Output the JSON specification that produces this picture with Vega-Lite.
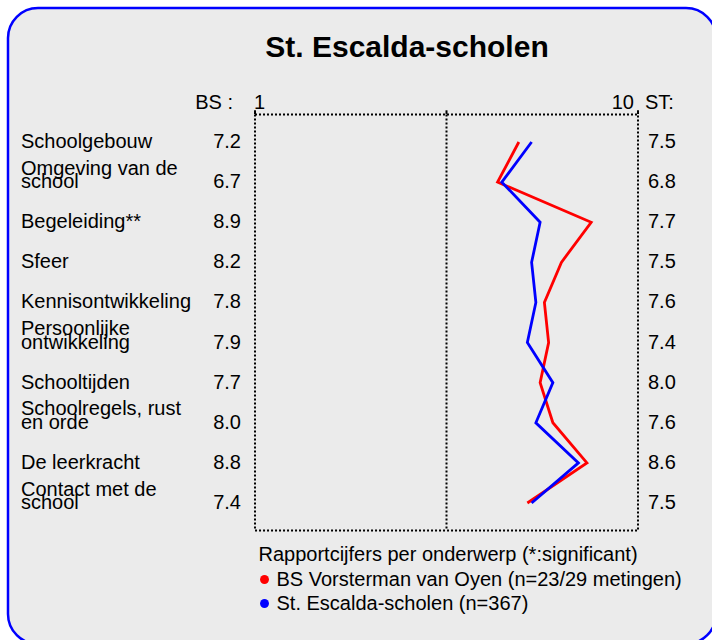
{
  "$schema": "https://vega.github.io/schema/vega-lite/v6.json",
  "width": 708,
  "height": 636,
  "autosize": {"type": "none"},
  "padding": {"left": 8, "top": 8, "right": -4, "bottom": -4},
  "background": "white",
  "config": {
    "view": {"fill": "#ebebeb", "stroke": "#0000ff", "strokeWidth": 2.5, "cornerRadius": 30},
    "font": "Liberation Sans",
    "text": {"font": "Liberation Sans", "fontSize": 20, "color": "black"}
  },
  "title": {
    "text": "St. Escalda-scholen",
    "font": "Liberation Sans",
    "fontSize": 30,
    "fontWeight": "bold",
    "color": "black",
    "anchor": "middle",
    "frame": "group",
    "dx": 45,
    "offset": -79,
    "baseline": "alphabetic"
  },
  "datasets": {
    "rows": [
      {"idx": 0, "label": "Schoolgebouw", "BS": 7.2, "ST": 7.5},
      {"idx": 1, "label": "Omgeving van de\nschool", "BS": 6.7, "ST": 6.8},
      {"idx": 2, "label": "Begeleiding**", "BS": 8.9, "ST": 7.7},
      {"idx": 3, "label": "Sfeer", "BS": 8.2, "ST": 7.5},
      {"idx": 4, "label": "Kennisontwikkeling", "BS": 7.8, "ST": 7.6},
      {"idx": 5, "label": "Persoonlijke\nontwikkeling", "BS": 7.9, "ST": 7.4},
      {"idx": 6, "label": "Schooltijden", "BS": 7.7, "ST": 8.0},
      {"idx": 7, "label": "Schoolregels, rust\nen orde", "BS": 8.0, "ST": 7.6},
      {"idx": 8, "label": "De leerkracht", "BS": 8.8, "ST": 8.6},
      {"idx": 9, "label": "Contact met de\nschool", "BS": 7.4, "ST": 7.5}
    ]
  },
  "data": {"name": "rows"},
  "layer": [
    {
      "data": {"values": [{}]},
      "mark": {"type": "rect", "fill": "transparent", "stroke": "black", "strokeWidth": 2, "strokeDash": [2, 2]},
      "encoding": {
        "x": {"datum": 1, "type": "quantitative", "scale": {"type": "linear", "domain": [1, 10], "range": [247, 630], "nice": false, "zero": false}, "axis": null},
        "x2": {"datum": 10},
        "y": {"datum": -0.686, "type": "quantitative", "scale": {"type": "linear", "domain": [0, 9], "range": [134, 495], "nice": false, "zero": false}, "axis": null},
        "y2": {"datum": 9.686}
      }
    },
    {
      "data": {"values": [{}]},
      "mark": {"type": "rule", "stroke": "black", "strokeWidth": 2, "strokeDash": [2, 2]},
      "encoding": {
        "x": {"datum": 5.5, "type": "quantitative"},
        "y": {"datum": -0.686, "type": "quantitative"},
        "y2": {"datum": 9.686}
      }
    },
    {
      "data": {"values": [{"tick": 1}, {"tick": 5.5}, {"tick": 10}]},
      "mark": {"type": "rule", "stroke": "black", "strokeWidth": 2},
      "encoding": {
        "x": {"field": "tick", "type": "quantitative"},
        "y": {"datum": -0.7, "type": "quantitative"},
        "y2": {"datum": -0.79}
      }
    },
    {
      "transform": [{"fold": ["BS", "ST"], "as": ["series", "value"]}],
      "mark": {"type": "line", "strokeWidth": 2.8},
      "encoding": {
        "x": {"field": "value", "type": "quantitative"},
        "y": {"field": "idx", "type": "quantitative"},
        "order": {"field": "idx", "type": "quantitative"},
        "color": {
          "field": "series",
          "type": "nominal",
          "scale": {"domain": ["BS", "ST"], "range": ["#ff0000", "#0000ff"]},
          "legend": {
            "orient": "none",
            "legendX": 250.5,
            "legendY": 537,
            "padding": 0,
            "title": "Rapportcijfers per onderwerp (*:significant)",
            "titleFont": "Liberation Sans",
            "titleFontSize": 20,
            "titleFontWeight": "normal",
            "titleColor": "black",
            "titlePadding": 4.5,
            "titleLimit": 0,
            "labelFont": "Liberation Sans",
            "labelFontSize": 20,
            "labelColor": "black",
            "labelLimit": 0,
            "labelOffset": 2,
            "symbolOffset": -4,
            "rowPadding": 4,
            "symbolType": "circle",
            "symbolSize": 80,
            "symbolStrokeWidth": 0,
            "labelExpr": "datum.value == 'BS' ? 'BS Vorsterman van Oyen (n=23/29 metingen)' : 'St. Escalda-scholen (n=367)'",
            "encode": {"symbols": {"update": {"fill": {"scale": "color", "field": "value"}, "opacity": {"value": 1}}}}
          }
        }
      }
    },
    {
      "transform": [{"calculate": "peek(split(datum.label, '\\n'))", "as": "mainLine"}],
      "mark": {"type": "text", "align": "left", "baseline": "middle"},
      "encoding": {
        "x": {"datum": -4.5, "type": "quantitative"},
        "y": {"field": "idx", "type": "quantitative"},
        "text": {"field": "mainLine", "type": "nominal"}
      }
    },
    {
      "transform": [
        {"filter": "indexof(datum.label, '\\n') >= 0"},
        {"calculate": "split(datum.label, '\\n')[0]", "as": "topLine"}
      ],
      "mark": {"type": "text", "align": "left", "baseline": "middle", "dy": -13.5},
      "encoding": {
        "x": {"datum": -4.5, "type": "quantitative"},
        "y": {"field": "idx", "type": "quantitative"},
        "text": {"field": "topLine", "type": "nominal"}
      }
    },
    {
      "mark": {"type": "text", "align": "right", "baseline": "middle", "dx": -14},
      "encoding": {
        "x": {"datum": 1, "type": "quantitative"},
        "y": {"field": "idx", "type": "quantitative"},
        "text": {"field": "BS", "type": "quantitative", "format": ".1f"}
      }
    },
    {
      "mark": {"type": "text", "align": "left", "baseline": "middle", "dx": 10},
      "encoding": {
        "x": {"datum": 10, "type": "quantitative"},
        "y": {"field": "idx", "type": "quantitative"},
        "text": {"field": "ST", "type": "quantitative", "format": ".1f"}
      }
    },
    {
      "data": {"values": [{}]},
      "mark": {"type": "text", "text": "BS :", "align": "right", "baseline": "alphabetic", "dx": -22},
      "encoding": {"x": {"datum": 1, "type": "quantitative"}, "y": {"datum": -0.83, "type": "quantitative"}}
    },
    {
      "data": {"values": [{}]},
      "mark": {"type": "text", "text": "1", "align": "left", "baseline": "alphabetic", "dx": -1},
      "encoding": {"x": {"datum": 1, "type": "quantitative"}, "y": {"datum": -0.83, "type": "quantitative"}}
    },
    {
      "data": {"values": [{}]},
      "mark": {"type": "text", "text": "10", "align": "right", "baseline": "alphabetic", "dx": -4},
      "encoding": {"x": {"datum": 10, "type": "quantitative"}, "y": {"datum": -0.83, "type": "quantitative"}}
    },
    {
      "data": {"values": [{}]},
      "mark": {"type": "text", "text": "ST:", "align": "left", "baseline": "alphabetic", "dx": 7},
      "encoding": {"x": {"datum": 10, "type": "quantitative"}, "y": {"datum": -0.83, "type": "quantitative"}}
    }
  ]
}
